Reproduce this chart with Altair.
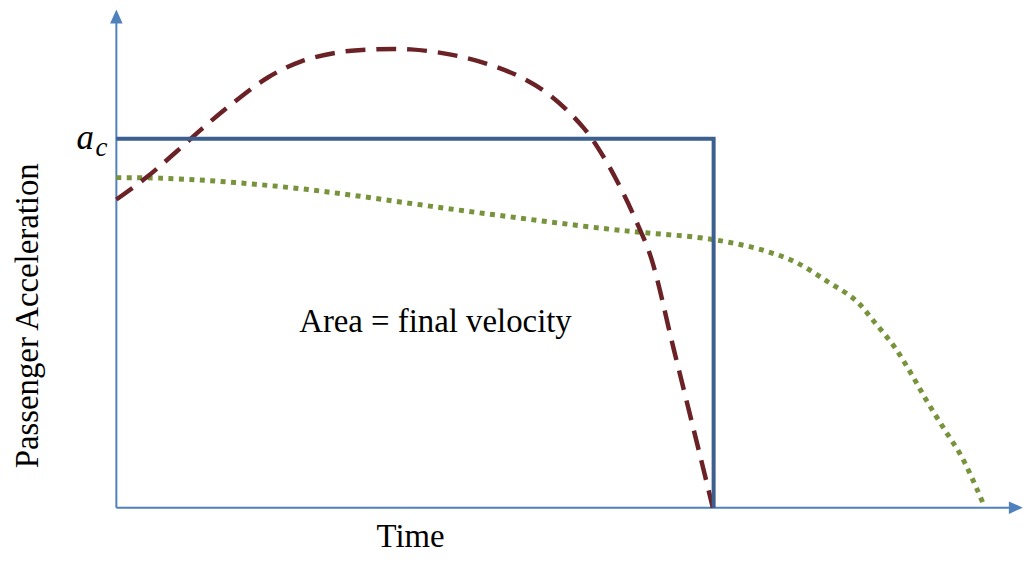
import altair as alt
import pandas as pd

# ---- data (arbitrary units: time 0..114, acceleration 0..100) ----
const_t = [0.0, 75.1, 75.1]
const_a = [74.2, 74.2, 0.0]

red_t = [0.0, 3.75, 7.25, 10.75, 14.5, 19.1, 23.25, 27.9, 32.5, 37.0, 41.9, 46.4,
         50.6, 54.5, 58.75, 61.4, 63.75, 65.6, 67.25, 70.1, 73.5, 75.0]
red_a = [62.0, 66.4, 71.2, 76.2, 81.2, 86.6, 89.8, 91.6, 92.2, 92.2, 91.2, 89.4,
         86.8, 83.0, 76.4, 70.2, 63.2, 56.8, 50.2, 31.8, 9.8, 0.0]

green_t = [0.0, 5.4, 11.6, 17.9, 24.1, 30.4, 36.6, 42.9, 49.1, 55.4, 61.6, 66.6,
           72.9, 77.0, 81.3, 85.4, 89.5, 92.9, 95.4, 97.9, 100.0, 102.0, 104.1,
           106.3, 108.3, 109.1]
green_a = [66.4, 66.3, 65.8, 65.0, 64.0, 62.7, 61.3, 59.9, 58.6, 57.3, 56.1, 55.3,
           54.4, 53.4, 51.8, 49.4, 45.4, 41.8, 37.2, 32.2, 26.8, 21.2, 15.8,
           10.2, 3.4, 0.4]

axis_blue = "#4F81BD"
step_blue = "#3B5F8E"
dash_red = "#6A2226"
dot_green = "#77933C"
serif = "Liberation Serif"

xs = alt.Scale(domain=[0, 114], nice=False, zero=False)
ys = alt.Scale(domain=[0, 100.2], nice=False, zero=False)
X = lambda f: alt.X(f, type="quantitative", scale=xs, axis=None)
Y = lambda f: alt.Y(f, type="quantitative", scale=ys, axis=None)

df_const = pd.DataFrame({"t": const_t, "a": const_a, "o": range(len(const_t))})
df_red = pd.DataFrame({"t": red_t, "a": red_a})
df_green = pd.DataFrame({"t": green_t, "a": green_a})

axes_df = pd.DataFrame({"t": [0, 0], "a": [0, 0], "t2": [0, 112.5], "a2": [98.5, 0]})
axes = alt.Chart(axes_df).mark_rule(color=axis_blue, strokeWidth=2).encode(
    x=X("t"), y=Y("a"), x2="t2", y2="a2")

up = alt.Chart(pd.DataFrame({"t": [0], "a": [98.8]})).mark_point(
    shape="M0,-1L0.9,1L-0.9,1Z", filled=True, color=axis_blue, size=196, opacity=1
).encode(x=X("t"), y=Y("a"))
right = alt.Chart(pd.DataFrame({"t": [113.1], "a": [0]})).mark_point(
    shape="M1,0L-1,-0.9L-1,0.9Z", filled=True, color=axis_blue, size=196, opacity=1
).encode(x=X("t"), y=Y("a"))

green = alt.Chart(df_green).mark_line(
    color=dot_green, strokeWidth=5, strokeDash=[5, 5.5], strokeCap="butt",
    interpolate="catmull-rom").encode(x=X("t"), y=Y("a"))

red = alt.Chart(df_red).mark_line(
    color=dash_red, strokeWidth=4.5, strokeDash=[20, 11], strokeCap="butt",
    interpolate="catmull-rom").encode(x=X("t"), y=Y("a"))

step = alt.Chart(df_const).mark_line(
    color=step_blue, strokeWidth=4, strokeJoin="miter").encode(
    x=X("t"), y=Y("a"), order="o:Q")

def label(txt, x, y, size=33, angle=0, style="normal", align="center", baseline="middle"):
    return alt.Chart(pd.DataFrame({"txt": [txt]})).mark_text(
        font=serif, fontSize=size, angle=angle, fontStyle=style, align=align,
        baseline=baseline, color="black").encode(
        text="txt:N", x=alt.value(x), y=alt.value(y))

t_area = label("Area = final velocity", 321, 314)
t_time = label("Time", 296, 541, baseline="alphabetic")
t_pa = label("Passenger Acceleration", -89, 308, angle=270)
t_a = label("a", -40, 140, size=35, style="italic", align="left", baseline="alphabetic")
t_c = label("c", -21, 147, size=27, style="italic", align="left", baseline="alphabetic")

chart = alt.layer(axes, green, red, step, up, right,
                  t_area, t_time, t_pa, t_a, t_c).properties(
    width=912, height=501,
    autosize=alt.AutoSizeParams(type="none"),
    padding={"left": 109, "top": 0, "right": 0, "bottom": 47},
).configure_view(stroke=None)

chart.save("out.html", embed_options={"renderer": "svg", "actions": False})
